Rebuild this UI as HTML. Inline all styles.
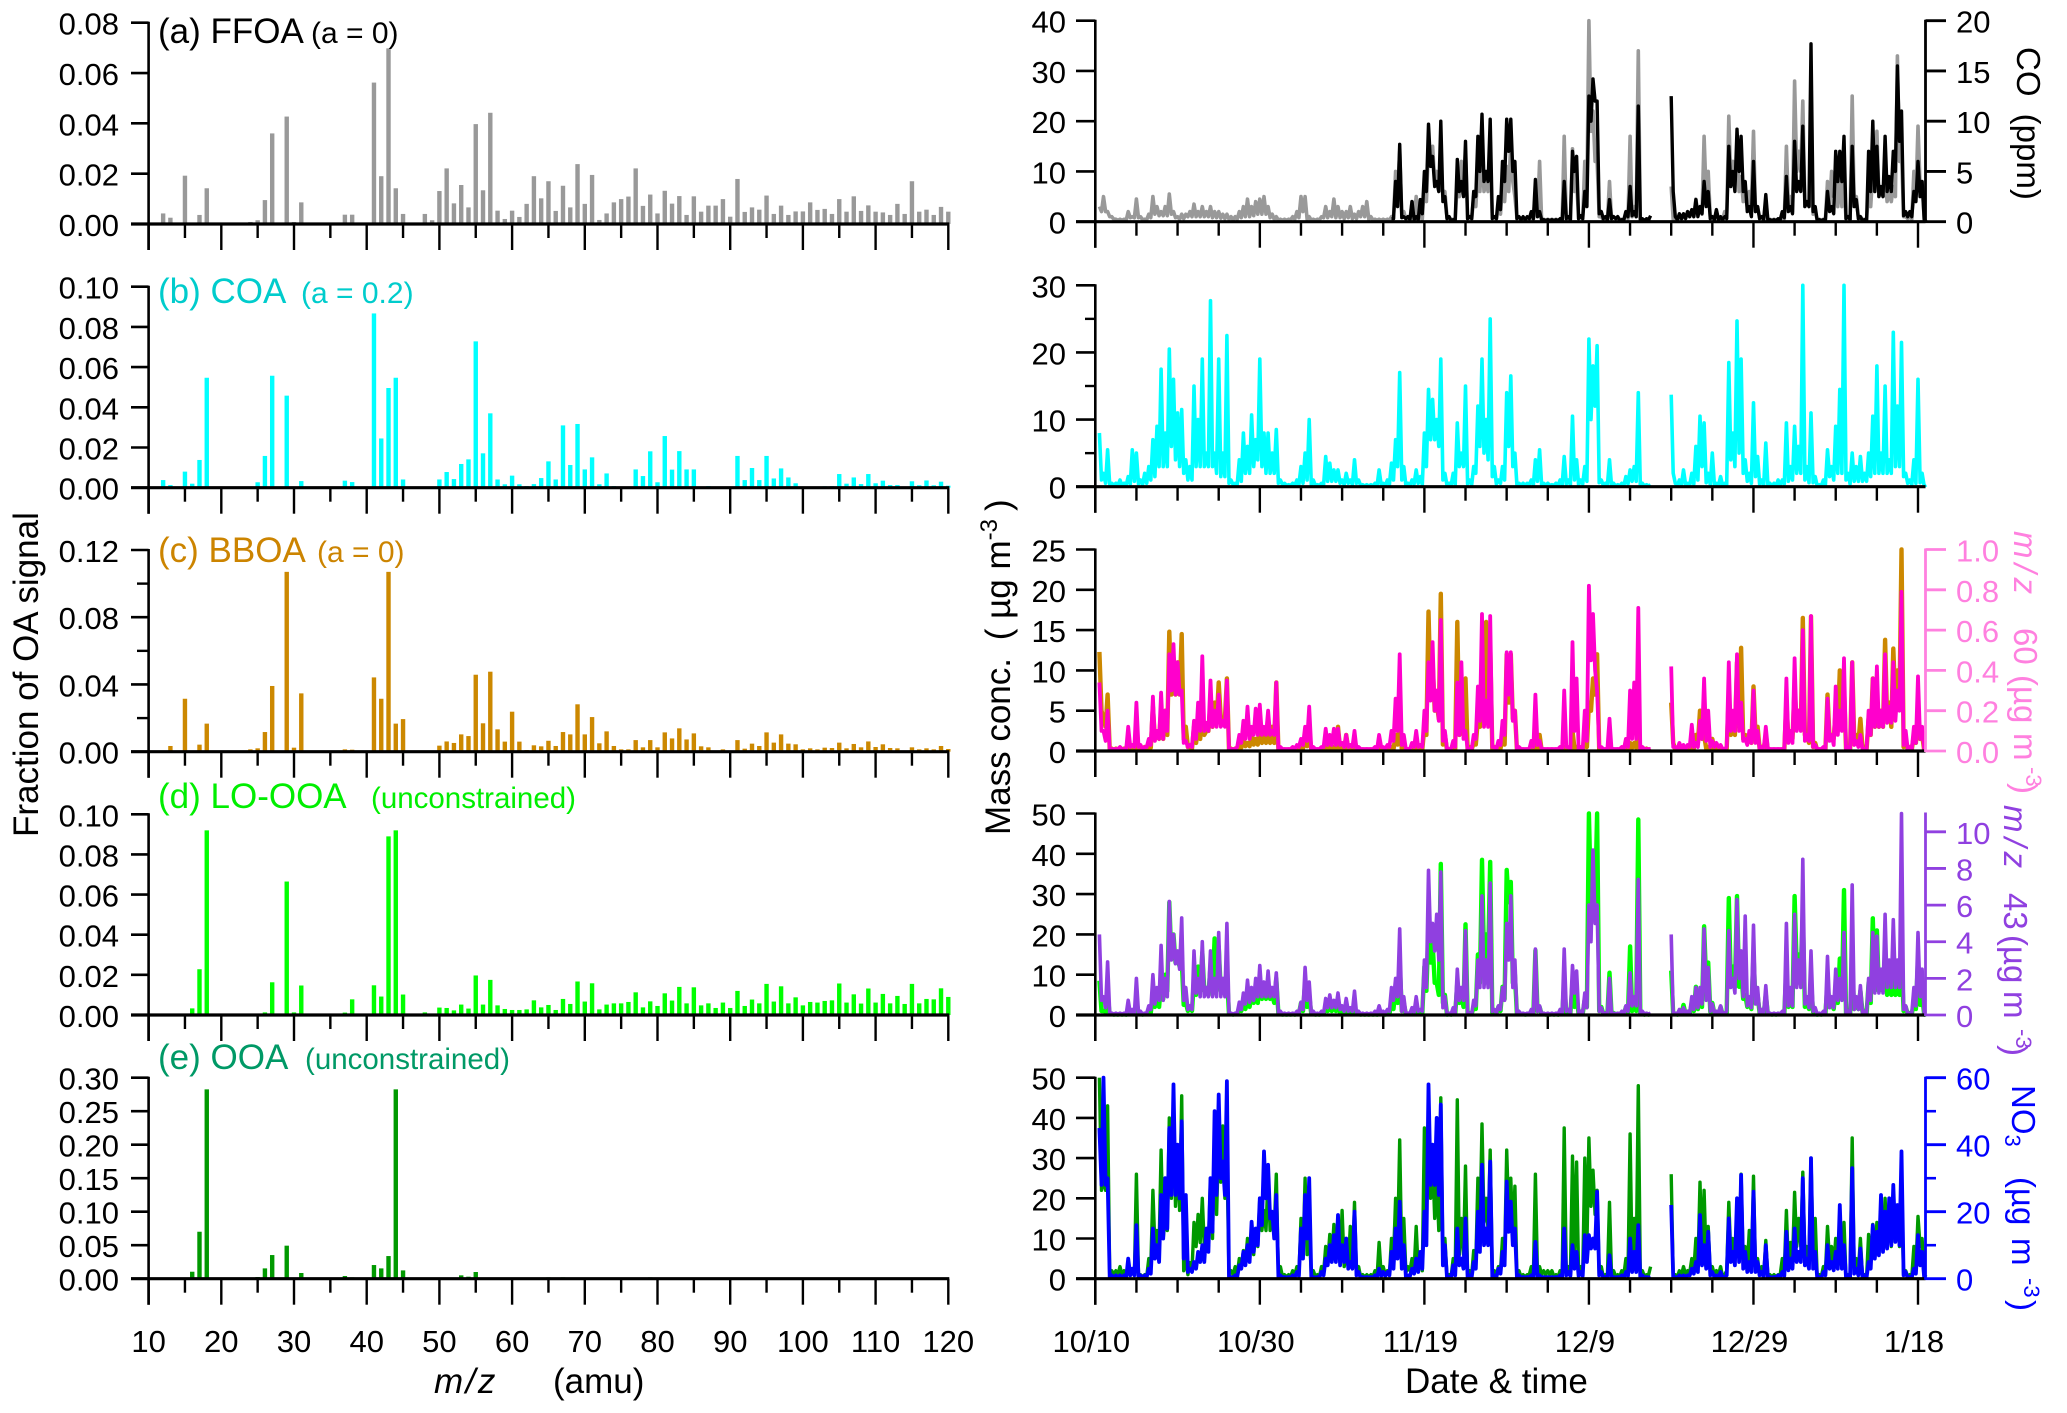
<!DOCTYPE html>
<html lang="en">
<head>
<meta charset="utf-8">
<title>OA factor mass spectra and time series</title>
<style>
html,body{margin:0;padding:0;background:#fff;}
svg{display:block;font-family:"Liberation Sans",Arial,sans-serif;}
</style>
</head>
<body>
<svg id="chart" xmlns="http://www.w3.org/2000/svg" width="2067" height="1413" viewBox="0 0 2067 1413">
<rect x="0" y="0" width="2067" height="1413" fill="#ffffff"/>
<g id="marks"></g>
<g id="axes"></g>

<text x="158" y="43" font-size="35" fill="#000000">(a) FFOA</text>
<text x="311" y="43" font-size="30" fill="#000000">(a = 0)</text>
<text x="158" y="303" font-size="35" fill="#00cccc">(b) COA</text>
<text x="301" y="303" font-size="30" fill="#00cccc">(a = 0.2)</text>
<text x="158" y="562" font-size="35" fill="#cc8400">(c) BBOA</text>
<text x="317" y="562" font-size="30" fill="#cc8400">(a = 0)</text>
<text x="158" y="808" font-size="35" fill="#00ee00">(d) LO-OOA</text>
<text x="371" y="808" font-size="29.5" fill="#00ee00">(unconstrained)</text>
<text x="158" y="1069" font-size="35" fill="#009966">(e) OOA</text>
<text x="305" y="1069" font-size="29.5" fill="#009966">(unconstrained)</text>

<text transform="translate(38 837) rotate(-90)" font-size="35" fill="#000000">Fraction of OA signal</text>
<text transform="translate(1010 835) rotate(-90)" font-size="35" fill="#000000">Mass conc.  <tspan dx="8">( µg m</tspan><tspan dy="-13" font-size="24">-3</tspan><tspan dy="13" dx="8">)</tspan></text>

<text x="434" y="1393" font-size="35" font-style="italic" letter-spacing="2.5" fill="#000000">m/z</text>
<text x="553" y="1393" font-size="35" fill="#000000">(amu)</text>
<text x="1405" y="1393" font-size="35" fill="#000000">Date &amp; time</text>

<text transform="translate(2017 47) rotate(90)" font-size="33" fill="#000000">CO <tspan dx="8">(ppm)</tspan></text>
<text transform="translate(2014 531) rotate(90)" font-size="33" fill="#ff80df"><tspan font-style="italic" letter-spacing="5">m/z</tspan><tspan x="97">60</tspan><tspan x="144">(µg</tspan><tspan x="202">m</tspan><tspan x="236" dy="-12" font-size="22">-3</tspan><tspan x="252" dy="12">)</tspan></text>
<text transform="translate(2004 805) rotate(90)" font-size="33" fill="#9040e0"><tspan font-style="italic" letter-spacing="5">m/z</tspan><tspan x="88">43</tspan><tspan x="130">(µg</tspan><tspan x="186">m</tspan><tspan x="224" dy="-12" font-size="22">-3</tspan><tspan x="240" dy="12">)</tspan></text>
<text transform="translate(2012 1085) rotate(90)" font-size="33" fill="#0000ff">NO<tspan dy="7" font-size="22">3</tspan><tspan x="92" dy="-7">(µg</tspan><tspan x="153">m</tspan><tspan x="193" dy="-12" font-size="22">-3</tspan><tspan x="215" dy="12">)</tspan></text>

<script>
/* ---------- mass spectra: fraction of OA signal, m/z 10..120 ---------- */
const mzFirst = 10;
const mzTickLabels = ['10','20','30','40','50','60','70','80','90','100','110','120'];
const mzMinorTicks = [15,25,35,45,55,65,75,85,95,105,115];

const ffoaSpectrum = [
0,0,.0042,.0025,0,.0192,0,.0036,.0142,0,
.0002,0,0,0,.0008,.0015,.0095,.036,0,.0427,
.0008,.0086,0,0,0,.0003,0,.0037,.0037,0,
0,.0562,.019,.0698,.0142,.004,0,0,.004,.0015,
.0131,.0221,.0082,.0155,.0066,.0397,.0134,.0442,.0053,.002,
.0053,.0028,.008,.019,.0102,.017,.0052,.0152,.0066,.0238,
.008,.0195,.0016,.0042,.0086,.0099,.0109,.0221,.0072,.0117,
.0042,.0132,.0081,.0111,.0036,.011,.0049,.0073,.0073,.0099,
.0029,.0179,.0048,.0066,.0057,.0113,.004,.0073,.0036,.005,
.005,.0086,.0056,.006,.004,.0099,.0049,.011,.0052,.0074,
.0049,.0046,.0036,.008,.004,.017,.0049,.0057,.0036,.0068,
.0049];
const coaSpectrum = [
0,0,.0038,.0013,0,.008,.002,.0138,.0547,0,
0,0,0,0,0,.0027,.0158,.0557,0,.0458,
.0003,.0033,0,0,0,0,0,.0035,.0028,0,
0,.0867,.0245,.0496,.0547,.0041,0,0,0,0,
.0041,.0078,.0043,.0118,.0141,.0728,.0171,.037,.0041,.0017,
.006,.0017,.0008,.0018,.0048,.0131,.0041,.031,.0113,.0317,
.0091,.0151,.0017,.0071,.0008,0,0,.0091,.0058,.0181,
.0027,.0257,.009,.0182,.0091,.0091,.0005,.0008,0,.0004,
.0003,.0158,.0038,.0098,.0038,.0158,.0046,.0096,.0051,.0022,
.0003,.0002,.0002,.0007,.0008,.0068,.002,.0051,.0018,.0068,
.0022,.0035,.0013,.0013,.0002,.0032,.0012,.0036,.0012,.003,
.001];
const bboaSpectrum = [
0,0,0,.0034,0,.0315,0,.0042,.0167,0,
0,0,0,0,.0014,.002,.0117,.0391,0,.107,
.0024,.0347,0,0,0,0,0,.0014,.0012,0,
0,.0442,.0315,.107,.0167,.0194,0,0,0,0,
.0036,.0061,.0052,.0103,.0093,.0458,.0169,.0476,.0133,.006,
.0238,.006,.001,.0038,.0032,.0065,.0034,.0117,.0103,.0282,
.0103,.0206,.005,.0121,.0034,.0014,.0014,.0069,.0026,.0069,
.0026,.0115,.0079,.0139,.0073,.0109,.0032,.0026,.0003,.0014,
.0005,.0069,.0018,.0048,.0034,.0115,.0054,.0103,.0048,.0044,
.0014,.002,.0014,.0024,.0022,.0054,.002,.0046,.0026,.0061,
.0028,.0044,.0022,.002,.0005,.0026,.0014,.002,.0014,.0034,
.0016];
const looaSpectrum = [
0,0,0,0,0,0,.0033,.0228,.092,0,
0,0,0,0,.0005,0,.0013,.0163,0,.0665,
.0013,.0147,0,0,0,0,0,.0012,.0078,0,
0,.0148,.0092,.089,.092,.0102,0,0,.0013,0,
.0037,.0035,.0023,.0052,.0032,.0197,.0052,.0175,.0048,.003,
.0025,.0025,.0028,.0073,.0038,.005,.0025,.008,.0055,.0167,
.0067,.0158,.0028,.0052,.0058,.0058,.0065,.0113,.0038,.0068,
.0045,.0108,.0072,.014,.0058,.0138,.0048,.0058,.0035,.0062,
.0035,.012,.0045,.0077,.0058,.0155,.0067,.0143,.0058,.0088,
.0048,.0065,.0062,.007,.0073,.0157,.0062,.0103,.0057,.0132,
.0062,.0105,.0058,.0095,.0055,.0155,.0058,.008,.0078,.0133,
.009];
const ooaSpectrum = [
0,0,0,0,0,0,.0104,.0701,.2826,0,
0,0,0,0,0,.0025,.0154,.0353,0,.0493,
.0015,.0085,0,0,0,0,0,.004,.002,0,
0,.0204,.0154,.0338,.2826,.0124,0,0,0,0,
.001,.0015,.001,.005,.003,.01,.0015,0,0,0,
0,0,0,0,.001,.002,.001,.002,.001,.001,
0,0,.0005,0,0,0,0,.001,0,.002,
.0005,.0005,0,0,0,0,0,0,0,0,
0,.001,0,0,0,0,0,.0005,0,.0005,
0,0,0,0,0,.0005,0,0,0,0,
0,0,0,0,0,0,0,0,0,0,
0];

const ffoaTickLabels = ['0.00','0.02','0.04','0.06','0.08'];
const coaTickLabels = ['0.00','0.02','0.04','0.06','0.08','0.10'];
const bboaTickLabels = ['0.00','0.04','0.08','0.12'];
const bboaMinorTicks = [.02,.06,.10];
const looaTickLabels = ['0.00','0.02','0.04','0.06','0.08','0.10'];
const ooaTickLabels = ['0.00','0.05','0.10','0.15','0.20','0.25','0.30'];

/* ---------- time series: half-day local highs, starting 10/10, each
   followed by the local low read between it and the next high ---------- */
const dateTickLabels = ['10/10','10/30','11/19','12/9','12/29','1/18'];
const dateTickDays = [0,20,40,60,80,100];
const dateMinorDays = [5,10,15,25,30,35,45,50,55,65,70,75,85,90,95];
const daysPerSample = 0.5;

const ffoaSeries = [
null,3,5,2,1,.5,.5,.5,2,1,
4.5,1,.5,1.5,5,3,2,3,5.5,2,
1,1.5,1.5,2,3.5,2,3,2,3,2,
2,1.5,1.5,1,1,2,3,4.5,3,4,
4.5,5,3,1.5,1,.5,.5,.5,1,2,
5,5,1,.5,.5,1,3,2,4.5,3,
2,2,3,1.5,2,3,4,1,.5,.5,
.5,.5,1,10,14,2,1,4,5,1,
8,15,15,10,10,6,1,.5,8,12,
14,1,5,10,14,8,13,1,3,8,
11,16,5,1,.5,.5,1,6,12,.5,
.5,.5,.5,.5,17,.5,14.5,8,1,12,
40,22,12,1,.5,8,1,1,.5,2,
17,3,34,.5,.5,.5,null,null,null,null,
7,.5,1,1,2,2,4.5,3,17,10,
1,2,.5,2,21,12,14,9,5,6,
18,3,1,4,.5,.5,.5,1,15,5,
28,14,24,4,10,2,.5,.5,8,10,
10,9,8,1,25,5,1,.5,6,10,
18,6,8,6,7,33,14,1,1,10,
19,8,0];
const ffoaLows = [
null,2,2,1,.5,.3,.3,.3,.8,.8,
.8,.4,.4,.8,1.5,1.2,1.2,1.2,1.5,.8,
.5,.6,1,1,1,1,1,1,.8,.8,
.7,.6,.5,.4,.5,.8,1,1,1.2,1.5,
1.5,1.5,.8,.5,.3,.3,.3,.4,.5,.8,
2,.5,.3,.3,.4,.8,.8,1,.8,.8,
.6,.8,.6,.6,1,1,.5,.3,.3,.3,
.3,.3,.6,5,1,.4,.5,1,.5,.5,
4,12,8,6,5,.8,.3,.3,5,6,
.6,.5,3,6,6,6,1,.5,1.5,4,
6,8,.8,.4,.3,.3,.5,1,.4,.3,
.3,.3,.3,.3,.4,.4,6,.6,.5,6,
18,12,1,.4,.3,.6,.6,.4,.4,.6,
1,1,.4,.3,.3,null,null,null,null,null,
.4,.4,.5,.8,1,1,1.5,1.5,5,.8,
.5,.4,.4,.8,8,8,6,4,3,3,
2,.8,.5,.4,.3,.3,.4,.5,3,2,
10,10,3,3,1.5,.4,.3,.4,3,5,
3,3,.6,.5,3,.6,.4,.4,3,6,
5,5,4,4,5,12,1,.6,.5,5,
7,.5,null];
const coSeries = [
null,null,null,null,null,null,null,null,null,null,
null,null,null,null,null,null,null,null,null,null,
null,null,null,null,null,null,null,null,null,null,
null,null,null,null,null,null,null,null,null,null,
null,null,null,null,null,null,null,null,null,null,
null,null,null,null,null,null,null,null,null,null,
null,null,null,null,null,null,null,null,null,null,
null,null,.3,4,7.7,.5,.5,2,.5,2.2,
5,9.7,6.5,4,10,2.5,.5,.2,6.2,4,
8,.5,3,8.5,10.7,5,10.2,.5,2.5,6,
10.2,10.2,6,.5,.5,.5,1,4.2,1,.2,
.2,.2,.2,.3,4,.5,7,6.5,.6,3,
12.5,14.2,12,1,.5,2.2,.5,.5,.2,1,
3.5,1,11.5,.3,.3,.6,null,null,null,null,
12.5,.5,.8,.8,1,1.2,2.2,1.5,4,3,
.5,1.2,.5,.5,7.5,5,9.2,8.5,4,1.5,
6,1.5,.5,2.7,.2,.2,.3,1,4.5,1.5,
8,4,9.5,2,17.7,1.5,.2,.2,3,1.5,
7,7,8.5,.5,7.5,2.2,.5,.2,7,10,
7.5,3.5,8.5,4.5,7,15.5,11,1,1,3,
6,4,0];
const coLows = [
null,null,null,null,null,null,null,null,null,null,
null,null,null,null,null,null,null,null,null,null,
null,null,null,null,null,null,null,null,null,null,
null,null,null,null,null,null,null,null,null,null,
null,null,null,null,null,null,null,null,null,null,
null,null,null,null,null,null,null,null,null,null,
null,null,null,null,null,null,null,null,null,null,
null,null,.3,1.5,.4,.3,.2,.2,.2,.8,
3,5.5,3.5,3,2,.3,.1,.1,3,2.5,
.3,.3,2.5,5,4,4,.3,.3,1.2,4,
7,5,.3,.2,.2,.3,.3,.5,.2,.1,
.1,.1,.1,.1,.3,.2,5,.3,.3,1.5,
10,12,.8,.3,.2,.3,.3,.1,.2,.5,
.6,.5,.2,.1,.2,null,null,null,null,null,
3,.2,.3,.3,.5,.5,.5,.8,1.5,.3,
.2,.2,.2,.3,3.5,3,5,3,1,.5,
1,.3,.2,.1,.1,.1,.2,.4,1,.8,
3,3,1.5,1.5,1,.1,.1,.2,1,.8,
4,4,.3,.2,1.5,.3,.1,.1,3,3,
2.5,2.5,3,3,5,8,.6,.5,.5,2,
2.5,.2,null];
const coaSeries = [
null,8,2,5.5,.5,.5,1,.5,1.5,5.5,
5,1,2,3,7,9,17.5,8,20.5,16,
11,11.5,4,3,15,10,19,5,27.7,5,
19,5,22.5,1,.5,4,8,6,10.7,7,
19,8,8,5,8.5,1,.5,.3,.5,1,
3,5,10,1,.3,.5,4.5,3.5,2.5,2.5,
1,2,1,4,1,.3,.3,.3,.5,2.5,
.5,1,3.5,7,17,3,.5,1,2.5,1.5,
8,14.5,13,10,19,2,.5,2,9.5,5,
15,1,3,12,19,10,25,3,1,3,
14,16.5,5,.5,.5,.5,1,4,5.5,.5,
.5,.3,.5,1,4.5,1,10.5,4,1,3,
22,18,21,1,.5,4,.5,.3,.5,1.5,
2.5,3,14,.5,.3,.3,null,null,null,null,
13.7,.5,1,2.5,.5,2,6,10.5,9.5,2,
5,.5,1.5,.5,18.5,8,24.7,19,4,2,
12.5,4.5,1,6.5,.5,.5,1,1,9.5,3,
9,6,30,3,11,1.5,.3,1,5.5,3,
9,14.5,30,2,5,3,4.5,2,5,10.5,
18,5,15,4,23,12,21.5,2,1,4,
16,2,.3];
const coaLows = [
null,1,.5,.3,.2,.2,.2,.2,.4,.8,
.4,.3,.5,1,1.5,3,3,3,6,4,
3,2,1,1,3,3,3,3,3,2,
1.5,1.5,.5,.3,.3,.8,2,2,3,4,
3,2,2,2,.5,.3,.2,.2,.2,.3,
.5,1,.3,.2,.2,.3,.8,.8,.8,.5,
.3,.5,.3,.5,.2,.1,.1,.1,.2,.3,
.2,.3,1,3,1,.2,.2,.4,.5,.3,
3,7,7,6,1,.2,.2,.3,3,3,
.4,.3,2,6,5,4,1.5,.4,.5,1,
6,3,.3,.2,.2,.3,.3,.8,.3,.2,
.2,.2,.2,.3,.4,.3,1,.3,.4,.8,
10,12,.6,.2,.2,.2,.1,.1,.2,.4,
.8,.8,.2,.1,.1,null,null,null,null,null,
2,.2,.3,.3,.2,.4,1,3,.6,.3,
.3,.2,.2,.3,4,3,5,2,.8,.5,
1.5,.4,.2,.2,.1,.1,.2,.4,.8,1,
2,2,1,.6,.6,.1,.1,.3,1.5,1,
2,2,1,.4,.8,.8,.8,.8,1.5,2,
2,2,2,2,3,3,1.5,.5,.3,.5,
.6,.1,null];
const bboaSeries = [
null,12.3,4,7,.3,.3,.3,.3,1.5,.5,
3,.5,.5,1,5.5,2,5,5,14.8,8,
11,14.5,3,.5,3,3,5,2.5,6,6,
8.5,4,9,.3,.3,1,1.5,1,2,1.5,
3.5,2,2.5,3,8.5,.3,.2,.2,.2,.4,
1,2,2.5,.3,.2,.2,1,1,.5,3,
.5,2,.5,1.5,.3,.2,.2,.2,.3,.5,
.2,.5,.5,2,4,.5,.2,.3,.8,.5,
3,17.3,11,6,19.5,2,.2,1,16,5,
9,.5,1,4,10,16,13,.5,.5,1.5,
12,12,5,.3,.2,.2,.3,1,2,.2,
.2,.2,.2,.3,.5,.3,2.5,.5,.3,1,
6,9,12,.3,.2,1,.2,.2,.2,.5,
1,1,3.5,.3,.3,.3,null,null,null,null,
6,.2,.3,.3,.2,.8,2,5,2,.5,
1.5,.3,.5,.2,7,4,11,12.8,2,2,
8,3,.5,2,.2,.2,.2,.2,6,2,
8,5,16.5,2,16.7,1,.2,.3,7,2,
5,10,8,.5,11,2,4,.5,4,9,
7,5,13.8,6,12.7,10,25,1,.5,2,
5,2,.2];
const bboaLows = [
null,5,3,.3,.1,.1,.1,.1,.2,.2,
.2,.2,.2,.4,1.5,1.5,1.5,2,7,7,
7,1.5,.5,.3,1,1.5,2,2.5,3,3.5,
4,4,.2,.1,.2,.4,.6,.6,.8,.8,
1,1,1,1,.2,.1,.1,.1,.1,.2,
.3,.6,.2,.1,.1,.1,.3,.2,.2,.2,
.2,.2,.2,.2,.1,.1,.1,.1,.1,.1,
.1,.1,.2,.8,.2,.1,.1,.1,.2,.2,
2,7,5,4,.8,.1,.1,.2,2,2,
.2,.2,.8,3,5,5,.3,.2,.3,.8,
6,4,.2,.1,.1,.1,.2,.3,.1,.1,
.1,.1,.1,.1,.2,.1,.3,.1,.1,.5,
5,7,.2,.1,.1,.1,.1,.1,.1,.2,
.4,.4,.1,.1,.1,null,null,null,null,null,
1,.1,.1,.1,.1,.3,1,1.5,.3,.3,
.2,.1,.1,.3,2,2,3,1.5,1,1,
2,.3,.2,.1,.1,.1,.1,.1,1.5,1.5,
3,3,2,1,.5,.1,.1,.1,1.5,1.5,
3,4,.3,.2,1.5,1,.4,.2,2,3,
3,3,4,3,6,6,.5,.2,.2,1,
1.5,.1,null];
const mz60Series = [
null,.34,.1,.2,.01,.01,.02,.01,.12,.03,
.24,.03,.02,.06,.27,.1,.29,.2,.48,.53,
.44,.3,.05,.03,.15,.24,.47,.14,.35,.2,
.28,.15,.35,.01,.01,.08,.15,.22,.12,.21,
.23,.12,.2,.1,.34,.02,.01,.01,.02,.03,
.06,.12,.22,.02,.01,.02,.11,.08,.11,.11,
.04,.08,.03,.1,.02,.01,.01,.01,.02,.08,
.02,.03,.1,.26,.48,.08,.01,.04,.1,.03,
.2,.44,.54,.3,.65,.1,.01,.05,.34,.44,
.1,.01,.08,.32,.68,.25,.67,.02,.05,.15,
.49,.49,.2,.02,.01,.01,.05,.28,.05,.01,
.01,.01,.01,.02,.3,.02,.54,.36,.02,.2,
.82,.68,.3,.02,.01,.16,.01,.01,.02,.06,
.3,.34,.71,.02,.01,.01,null,null,null,null,
.42,.02,.04,.03,.03,.13,.04,.15,.36,.2,
.05,.04,.03,.01,.44,.2,.48,.24,.06,.1,
.3,.1,.02,.12,.01,.01,.01,.01,.36,.1,
.46,.2,.6,.08,.67,.03,.01,.02,.26,.08,
.32,.2,.46,.02,.44,.05,.08,.01,.2,.36,
.42,.2,.48,.22,.44,.3,.79,.1,.02,.12,
.37,.12,.01];
const mz60Lows = [
null,.1,.05,.01,.01,.01,.01,.01,.02,.02,
.02,.01,.02,.03,.05,.06,.06,.1,.3,.28,
.28,.04,.02,.02,.06,.1,.1,.1,.12,.12,
.12,.12,.01,.01,.02,.04,.06,.06,.08,.08,
.08,.08,.08,.08,.01,.01,.01,.01,.01,.02,
.03,.05,.01,.01,.01,.02,.03,.03,.03,.03,
.02,.02,.02,.01,.01,.01,.01,.01,.01,.02,
.01,.02,.05,.1,.03,.01,.01,.02,.02,.02,
.1,.25,.2,.15,.05,.01,.01,.02,.08,.06,
.01,.01,.06,.15,.12,.12,.02,.01,.03,.08,
.28,.15,.01,.01,.01,.01,.02,.03,.01,.01,
.01,.01,.01,.01,.02,.01,.1,.01,.01,.05,
.45,.4,.02,.01,.01,.01,.01,.01,.01,.02,
.06,.06,.01,.01,.01,null,null,null,null,null,
.02,.01,.01,.01,.02,.02,.02,.06,.05,.02,
.02,.02,.01,.02,.1,.1,.1,.05,.03,.04,
.04,.01,.01,.01,.01,.01,.01,.01,.04,.04,
.1,.1,.05,.05,.02,.01,.01,.01,.05,.03,
.08,.1,.01,.01,.03,.02,.01,.01,.08,.12,
.12,.12,.14,.14,.15,.2,.03,.01,.01,.04,
.06,.01,null];
const looaSeries = [
null,8.5,1,5,.3,.2,.3,.2,1,.5,
4,.3,.3,1,5,4,8,10,28,20,
14,14,3,2,9,12,15.5,6,12,19,
17,8,10,.3,.3,2,3,4,5,6,
9,6,7,5,9,.5,.2,.2,.3,.5,
3,8,5,.3,.2,.3,2,2,3,2,
1,1.5,.5,2,.3,.2,.2,.2,.2,1,
.2,.5,3,7,13,3,.3,1,3,1,
12,22,18,8,37.5,5,.2,1,8,5,
22.5,.5,2,15,38.5,20,38,1,2,7,
36,33,10,.5,.3,.2,1,16,2,.3,
.3,.3,.3,.5,8,1,8,5,.5,4,
50,30,50,2,.5,10.5,.5,.3,.5,2,
17,4,48.5,.5,.3,.3,null,null,null,null,
11,.3,1,2.5,.5,3,7,5,22,13,
3,.5,2,.5,29,12,29.5,12,5,3,
15,5,1,5,.3,.3,.3,.5,12,5,
29.5,15,25,3,8,1,.2,.5,8,3,
6,14,31,1,12,3,6,1,8,24,
21,10,15,9,11,10,14,2,.5,3,
14,5,.2];
const looaLows = [
null,1,.8,.2,.1,.1,.1,.1,.3,.2,
.2,.1,.3,.6,2,2,4,6,14,13,
12,2.5,1,1,5,6,6,5,6,8,
6,6,.2,.1,.2,1,1.5,2,3,3,
4,4,4,3,.3,.1,.1,.1,.1,.3,
1,2,.2,.1,.1,.2,1,1,1,.5,
.3,.3,.3,.2,.1,.1,.1,.1,.1,.2,
.1,.2,1.5,3,1,.2,.2,.4,.4,.4,
6,13,8,5,3,.1,.1,.3,3,2,
.3,.3,1.5,8,14,14,.6,.4,1,4,
28,8,.3,.2,.1,.2,.5,1,.2,.1,
.1,.1,.1,.2,.5,.5,2,.2,.3,2,
28,28,1,.3,.2,.3,.2,.2,.2,.5,
1,1,.3,.1,.1,null,null,null,null,null,
.2,.1,.3,.2,.3,1,1.5,2,8,.8,
.3,.3,.2,.5,8,7,7,4,2,1.5,
3,.5,.3,.2,.1,.1,.2,.2,2,2,
12,12,2,1.5,.8,.1,.1,.2,2,1.5,
3,4,.5,.3,1.5,1.5,.8,.3,3,6,
6,6,5,5,5,5,1,.3,.3,1.5,
2.5,.1,null];
const mz43Series = [
null,4.4,1,2.9,.1,.1,.1,.1,.8,.3,
2,.2,.1,.5,2.2,1.5,3.8,2,6.2,4.4,
3.5,5.3,1.5,.5,3.5,2,4,1.5,3.5,2,
4.5,2,5,.1,.1,.7,1.2,1.9,1.5,2,
2.7,1.8,2.4,1.5,2.3,.2,.1,.1,.1,.2,
.7,2.6,1.8,.2,.1,.2,.9,1.1,.8,1.2,
.5,.9,.4,1.3,.2,.1,.1,.1,.2,.5,
.2,.3,1.5,2,4.7,1,.1,.4,1,.3,
3,7.9,5,5.5,7.8,1,.1,.4,2.5,1.5,
4.6,.1,.8,3,6.5,3,7.2,.3,.5,1.5,
5,6.5,3,.2,.1,.1,.3,3.6,.5,.1,
.1,.1,.1,.3,3.6,.3,2.7,2.4,.2,1.2,
6,9,6,.4,.1,2,.1,.1,.2,.5,
2.3,1,7.4,.2,.1,.1,null,null,null,null,
4.4,.1,.3,.4,.2,1,1.5,1.5,4.7,2.6,
.6,.2,.5,.1,4.6,2,6.3,3.5,5.4,1,
4.9,1.5,.3,1.6,.1,.1,.1,.2,5,1.5,
5.5,3,8.5,1,3.5,.4,.1,.2,3.2,1,
2.5,2,4.5,.2,7.1,1,1.6,.2,2,4.5,
4.3,2.5,5.5,3,5.2,3,11,.5,.1,1.5,
4.5,2.5,.1];
const mz43Lows = [
null,.8,.4,.1,.05,.05,.05,.05,.1,.1,
.1,.05,.1,.3,.6,.8,.8,1,3,2.8,
2.5,.8,.3,.3,1.2,1,1,1,1,1,
1,1,.1,.05,.1,.3,.6,.7,.8,1,
1,1,1,1,.1,.05,.05,.05,.05,.1,
.3,.8,.1,.05,.05,.1,.4,.4,.4,.3,
.2,.2,.2,.1,.05,.05,.05,.05,.1,.1,
.1,.2,.8,1,.2,.05,.1,.15,.2,.2,
1.5,4,3.5,3,.4,.05,.05,.1,.8,.8,
.1,.05,.5,1.5,1.5,1.5,.2,.1,.3,.8,
3,1.5,.1,.05,.05,.05,.1,.2,.05,.05,
.05,.05,.05,.1,.2,.1,1.2,.1,.1,.4,
4,5,.2,.05,.05,.1,.05,.05,.05,.2,
.5,.5,.1,.05,.05,null,null,null,null,null,
.05,.05,.1,.1,.1,.3,.4,.6,.8,.2,
.1,.1,.05,.2,1.5,1.2,2,1,.5,.4,
.6,.1,.1,.05,.05,.05,.05,.1,.5,.5,
1.5,1.5,.6,.4,.2,.05,.05,.1,.4,.4,
.8,.8,.1,.05,.3,.3,.1,.1,.8,1.2,
1.2,1.2,1.5,1.5,1.5,1.5,.3,.05,.1,.5,
1,.05,null];
const ooaSeries = [
null,50,25,43,2,2,3,2,3,2,
26,1,1,5,22,12,32,15,40,40,
30,45.5,5,4,14,16,20,12,25,38,
35,38,30,2,3,5,7,10,13,12,
20,17,26,15,26,3,1,1,2,3,
15,25,12,2,1,3,8,11,13.5,14,
17,6,13,19,3,1,1,1,2,9,
3,2,10,20,34.5,15,3,5,13,5,
37.5,35,30,25,45,10,1,5,44.5,15,
28,2,7,25,38.5,20,32,2,3,10,
32,25,23,2,1,1,3,26,3,2,
2,2,1,2,37.5,3,30.5,29,3,30,
35,27,22,3,1,19,2,1,2,5,
36,15,48,2,1,3,null,null,null,null,
26,1,2,3,2,5,10,24,22,13,
3,2,3,1,19,10,18,26,8,12,
25.5,5,3,9.5,1,1,1,5,17,9,
21.5,15,26.5,8,30,15,1,3,13,8,
10,6,14,1,35,5,10,1,11,13.5,
14,18,20,16,22,18,20,2,1,8,
15.5,10,1];
const ooaLows = [
null,22,22,1,1,1,1,1,1.5,1,
.8,.5,.5,3,8,8,10,12,20,18,
17,2,1,2,8,9,8,8,10,16,
24,20,1,1,1,3,4,5,6,8,
12,12,12,12,1,.5,.5,.5,1,1,
6,6,1,.5,.5,1.5,4,5,5,4,
3,3,3,1,.5,.5,.5,.5,.5,1,
1,1,5,8,4,1.5,2,2,2,2,
15,20,15,12,5,.5,.5,1,6,6,
1,1,4,12,14,12,1,1,2,5,
16,10,1,.5,.5,1,1,1,1,1,
1,.5,.5,1,1.5,1,6,1,1,8,
18,16,1,.5,.5,1,.5,.5,1,1.5,
3,3,1,.5,1,null,null,null,null,null,
1,.5,1,1,1.5,2,3,6,4,1.5,
1,1,.5,2,6,5,5,4,3,3,
2,1,.5,.5,.5,.5,1,2,3,4,
8,8,5,5,6,.5,.5,1.5,4,3,
3,3,.5,.5,2,2,.5,.5,4,5,
6,8,8,8,10,8,1,.5,.5,3,
8,.5,null];
const no3Series = [
null,45,60,30,1,1,1,1,6,3,
16,1,1,3,15,10,25,30,45,58,
40,47,25,3,5,8,10,15,30,50,
55,35,59,.5,1,4,8,10,17,15,
24,38,34,20,25,1,.5,.5,1,2,
15,25,30,.5,.5,2,6,10,13,19,
10,12,5,20,2,.5,.5,.5,1,3,
2,2,8,15,23,10,1,3,6,8,
20,58,40,48,52,10,.5,4,15,6,
18,1,5,20,34,15,35,1,3,8,
29,23,15,1,.5,.5,1,11,1,.5,
.5,.5,.5,1,15,2,10,8,2,13,
13,12,26,2,.5,7,.5,.5,1,2,
12,8,16,1,.5,.5,null,null,null,null,
22,.5,1,1,1,3,5,19,10,14,
2,1,2,.5,18,8,24,31,8,5,
26,5,2,10,.5,.5,1,2,14,6,
15,8,30,6,36,8,.5,2,10,5,
8,22,10,1,33,3,9,1,5,16,
14,25,20,24,28,22,38,2,.5,3,
13,8,.5];
const no3Lows = [
null,28,28,.5,.3,.3,.3,.3,1,1,
.5,.3,.5,1.5,6,5,12,15,25,25,
24,6,2,2,3,5,5,8,14,25,
30,25,.3,.3,.5,3,4,5,8,10,
16,24,18,12,.5,.3,.3,.3,.5,.8,
6,12,.3,.3,.5,1,4,5,5,4,
5,3,3,1,.3,.3,.3,.3,.5,.8,
.8,1,3,6,3,.5,.8,1.5,2,3,
10,28,28,25,4,.3,.3,1,4,3,
.5,.5,3,8,10,10,.5,.5,1.5,4,
14,10,.5,.3,.3,.4,.5,.5,.3,.3,
.3,.3,.3,.4,1,.8,3,.8,.8,5,
9,9,1,.3,.3,.4,.3,.3,.4,.8,
2,2,.5,.3,.3,null,null,null,null,null,
.4,.3,.5,.5,1,1.5,2,4,3,1,
.5,.5,.3,1,5,4,5,3,2,2,
2,1,.5,.3,.3,.4,.5,.8,2.5,3,
5,5,4,3,3,.3,.3,1,3,2.5,
3,3,.5,.4,1.5,1,.5,.4,3,6,
7,8,9,10,11,10,1,.3,.4,1.5,
4,.3,null];

const tsAxisA = ['0','10','20','30','40'];
const tsAxisB = ['0','10','20','30'];
const tsAxisBMinor = [5,15,25];
const tsAxisC = ['0','5','10','15','20','25'];
const tsAxisD = ['0','10','20','30','40','50'];
const tsAxisE = ['0','10','20','30','40','50'];
const coAxis = ['0','5','10','15','20'];
const mz60Axis = ['0.0','0.2','0.4','0.6','0.8','1.0'];
const mz43Axis = ['0','2','4','6','8','10'];
const no3Axis = ['0','20','40','60'];
const no3Minor = [10,30,50];

/* ---------- drawing ---------- */
const NS = 'http://www.w3.org/2000/svg';
const marks = document.getElementById('marks');
const axes = document.getElementById('axes');

function shape(parent, tag, attrs) {
  const el = document.createElementNS(NS, tag);
  for (const k in attrs) el.setAttribute(k, attrs[k]);
  parent.appendChild(el);
  return el;
}
function tickLine(x1, y1, x2, y2, color, width) {
  const el = shape(axes, 'line', {x1: x1, y1: y1, x2: x2, y2: y2, stroke: color, 'stroke-width': width});
  
  
  return el;
}
function spine(x1, y1, x2, y2, color, width) {
  const el = shape(axes, 'line', {x1: x1, y1: y1, x2: x2, y2: y2, stroke: color, 'stroke-width': width});
  
  
  return el;
}
function tickText(str, x, y, anchor, color) {
  const el = shape(axes, 'text', {x: x, y: y, 'text-anchor': anchor, 'font-size': 31, fill: color});
  el.textContent = str;
  
  
  return el;
}
function linearY(zero, top, maxValue) {
  return function (v) { return zero - (v / maxValue) * (zero - top); };
}

/* left column */
const mzLeft = 148.6, mzPerUnit = 7.27;
function mzX(m) { return mzLeft + (m - 10) * mzPerUnit; }

function spectrumPanel(name, values, color, zero, top, maxValue, labels, minors) {
  const y = linearY(zero, top, maxValue);
  values.forEach(function (v, i) {
    if (v <= 0) return;
    const bar = shape(marks, 'rect', {x: mzX(mzFirst + i) - 2.2, y: y(v), width: 4.4, height: zero - y(v), fill: color});
    
    
  });
  spine(mzLeft, top - 1, mzLeft, zero + 26, '#000', 2.6);
  spine(131, zero, mzX(120) + 1, zero, '#000', 3.2);
  labels.forEach(function (s) {
    const v = parseFloat(s);
    tickLine(131, y(v), mzLeft, y(v), '#000', 2.6);
    tickText(s, 119, y(v) + 12, 'end', '#000');
  });
  (minors || []).forEach(function (v) { tickLine(137, y(v), mzLeft, y(v), '#000', 2.4); });
  mzTickLabels.forEach(function (s) {
    const m = parseFloat(s);
    tickLine(mzX(m), zero, mzX(m), zero + 26, '#000', 2.4);
  });
  mzMinorTicks.forEach(function (m) { tickLine(mzX(m), zero, mzX(m), zero + 14, '#000', 2.4); });
}
spectrumPanel('ffoa', ffoaSpectrum, '#999999', 224, 22.7, .08, ffoaTickLabels);
spectrumPanel('coa', coaSpectrum, '#00ffff', 487.7, 286.7, .10, coaTickLabels);
spectrumPanel('bboa', bboaSpectrum, '#cc8800', 751.7, 550, .12, bboaTickLabels, bboaMinorTicks);
spectrumPanel('lo-ooa', looaSpectrum, '#00ff00', 1015, 814.3, .10, looaTickLabels);
spectrumPanel('ooa', ooaSpectrum, '#009900', 1278.7, 1077.7, .30, ooaTickLabels);
mzTickLabels.forEach(function (s) { tickText(s, mzX(parseFloat(s)), 1352, 'middle', '#000'); });

/* right column */
const dayLeft = 1095.3, pxPerDay = 8.227, rightSpineX = 1925.5;
function dayX(d) { return dayLeft + d * pxPerDay; }

function seriesLine(name, highs, lows, yFn, color, width) {
  let d = '', pen = false;
  highs.forEach(function (v, i) {
    if (v === null) { pen = false; return; }
    const day = i * daysPerSample;
    d += (pen ? 'L' : 'M') + dayX(day).toFixed(1) + ' ' + yFn(v).toFixed(1);
    pen = true;
    if (lows[i] !== null) {
      d += 'L' + dayX(day + daysPerSample / 2).toFixed(1) + ' ' + yFn(lows[i]).toFixed(1);
    }
  });
  const el = shape(marks, 'path', {d: d, fill: 'none', stroke: color, 'stroke-width': width, 'stroke-linejoin': 'round'});
  
  
}
function seriesAxes(zero, top, leftMax, labels, minors) {
  const y = linearY(zero, top, leftMax);
  spine(dayLeft, top - 1, dayLeft, zero + 26, '#000', 2.6);
  spine(1076, zero, rightSpineX, zero, '#000', 3.2);
  labels.forEach(function (s) {
    const v = parseFloat(s);
    tickLine(1076, y(v), dayLeft, y(v), '#000', 2.6);
    tickText(s, 1066, y(v) + 12, 'end', '#000');
  });
  (minors || []).forEach(function (v) { tickLine(1085, y(v), dayLeft, y(v), '#000', 2.4); });
  dateTickDays.forEach(function (d) { tickLine(dayX(d), zero, dayX(d), zero + 26, '#000', 2.4); });
  dateMinorDays.forEach(function (d) { tickLine(dayX(d), zero, dayX(d), zero + 14, '#000', 2.4); });
}
function rightAxis(zero, top, yFn, labels, color, minors) {
  spine(rightSpineX, top - 1, rightSpineX, zero + 1, color, 2.8);
  labels.forEach(function (s) {
    const v = parseFloat(s);
    tickLine(rightSpineX, yFn(v), 1946, yFn(v), color, 2.8);
    tickText(s, 1956, yFn(v) + 12, 'start', color);
  });
  (minors || []).forEach(function (v) { tickLine(rightSpineX, yFn(v), 1936, yFn(v), color, 2.6); });
}

const yA = linearY(221.7, 20.7, 40), yCO = linearY(221.7, 20.7, 20);
seriesLine('ffoa', ffoaSeries, ffoaLows, yA, '#999999', 3.6);
seriesLine('co', coSeries, coLows, yCO, '#000000', 3.4);
seriesAxes(221.7, 20.7, 40, tsAxisA);
rightAxis(221.7, 20.7, yCO, coAxis, '#000000');

const yB = linearY(486.7, 285.3, 30);
seriesLine('coa', coaSeries, coaLows, yB, '#00ffff', 3.6);
seriesAxes(486.7, 285.3, 30, tsAxisB, tsAxisBMinor);

const yC = linearY(751, 549.5, 25), yM60 = linearY(751, 549.5, 1);
seriesLine('bboa', bboaSeries, bboaLows, yC, '#cc8800', 4.4);
seriesLine('mz60', mz60Series, mz60Lows, yM60, '#ff00cc', 3.8);
seriesAxes(751, 549.5, 25, tsAxisC);
rightAxis(751, 549.5, yM60, mz60Axis, '#ff80df');

const yD = linearY(1015, 813.5, 50), yM43 = linearY(1015, 813.5, 11);
seriesLine('lo-ooa', looaSeries, looaLows, yD, '#00ff00', 4.4);
seriesLine('mz43', mz43Series, mz43Lows, yM43, '#9040e0', 3.6);
seriesAxes(1015, 813.5, 50, tsAxisD);
rightAxis(1015, 813.5, yM43, mz43Axis, '#9040e0');

const yE = linearY(1278.7, 1077.7, 50), yNO3 = linearY(1278.7, 1077.7, 60);
seriesLine('ooa', ooaSeries, ooaLows, yE, '#009900', 3.4);
seriesLine('no3', no3Series, no3Lows, yNO3, '#0000ff', 3.8);
seriesAxes(1278.7, 1077.7, 50, tsAxisE);
rightAxis(1278.7, 1077.7, yNO3, no3Axis, '#0000ff', no3Minor);

dateTickLabels.forEach(function (s, i) { tickText(s, dayX(dateTickDays[i]) - 4, 1352, 'middle', '#000'); });
</script>
</svg>
</body>
</html>
